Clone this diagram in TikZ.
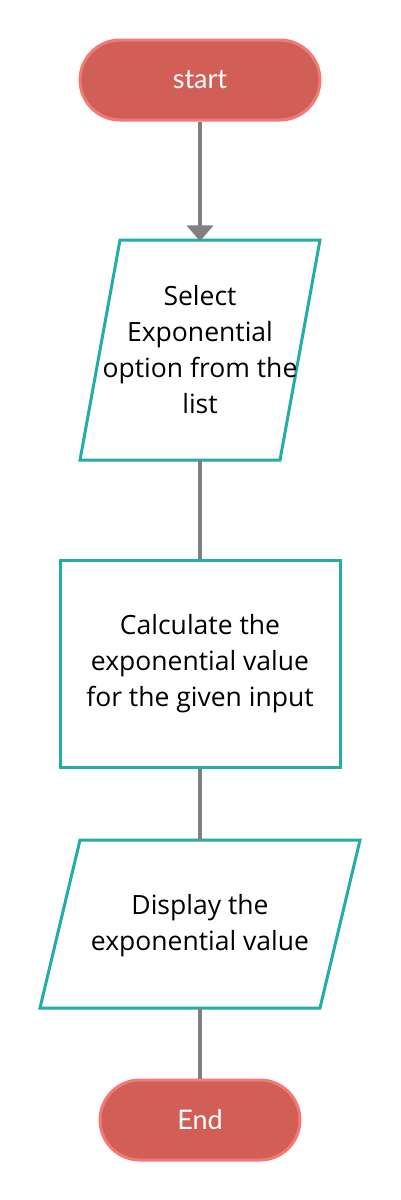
\documentclass[tikz,border=0pt]{standalone}
\usepackage{fontspec}
\setmainfont{Open Sans}
\newfontfamily\termfont{Lato}
\usetikzlibrary{arrows.meta}
\definecolor{termfill}{HTML}{D25E58}
\definecolor{termline}{HTML}{F27A76}
\definecolor{teal1}{HTML}{22ADA8}
\definecolor{conn}{HTML}{808080}
\begin{document}
\begin{tikzpicture}[x=1pt,y=-1pt,
  term/.style={rounded corners=40pt, fill=termfill, draw=termline, line width=3pt,
    text=white, font=\termfont\fontsize{27}{30}\selectfont, inner sep=0pt},
  shapeline/.style={draw=teal1, line width=3pt, line join=miter},
  txt/.style={align=center, font=\fontsize{26.5}{36}\selectfont, text=black},
  anchorbox/.style={draw=none, inner sep=0pt, rectangle},
  link/.style={draw=conn, line width=4pt},
]
\useasboundingbox (0,0) rectangle (400,1200);
\fill[white] (0,0) rectangle (400,1200);

% start terminal
\node[term, minimum width=240pt, minimum height=80pt] (start) at (200,80) {start};

% parallelogram 1
\draw[shapeline] (120,240) -- (320,240) -- (280,460) -- (80,460) -- cycle;
\node[anchorbox, minimum width=240pt, minimum height=220pt] (sel) at (200,350) {};
\node[txt] (seltxt) at (200,350) {Select\\Exponential\\option from the\\list};

% rectangle
\node[shapeline, rectangle, minimum width=280pt, minimum height=207pt, inner sep=0pt] (calc) at (200,663.5) {};
\node[txt] (calctxt) at (200,664) {Calculate the\\exponential value\\for the given input};

% parallelogram 2
\draw[shapeline] (80,840) -- (360,840) -- (320,1008) -- (40,1008) -- cycle;
\node[anchorbox, minimum width=320pt, minimum height=168pt] (disp) at (200,924) {};
\node[txt] (disptxt) at (200,926) {Display the\\exponential value};

% end terminal
\node[term, minimum width=200pt, minimum height=80pt] (end) at (200,1120) {End};

% connectors
\draw[link, -{Triangle[length=16pt,width=26pt]}] (start.south) -- ([yshift=-1.5pt]sel.north);
\draw[link] (sel.south) -- (calc.north);
\draw[link] (calc.south) -- (disp.north);
\draw[link] (disp.south) -- (end.north);
\end{tikzpicture}
\end{document}
